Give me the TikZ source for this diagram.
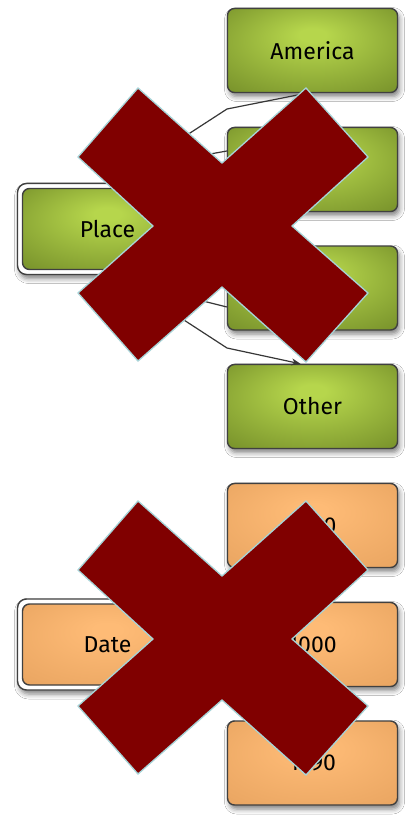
\documentclass[tikz,border=0pt]{standalone}
\usepackage{fontspec}
\setmainfont{Fira Sans}
\usetikzlibrary{shadows.blur,arrows.meta,calc}
\definecolor{gA}{RGB}{182,214,76}
\definecolor{gB}{RGB}{122,148,44}
\definecolor{oA}{RGB}{254,187,118}
\definecolor{oB}{RGB}{234,166,98}
\definecolor{edgegray}{RGB}{64,64,64}
\definecolor{xred}{RGB}{128,0,0}
\definecolor{xline}{RGB}{166,212,216}
\definecolor{wire}{RGB}{55,55,55}
\pgfdeclareradialshading{greenfill}{\pgfpoint{0bp}{10bp}}{color(0bp)=(gA);color(4bp)=(gA);color(36bp)=(gB);color(50bp)=(gB)}
\pgfdeclareradialshading{orangefill}{\pgfpoint{0bp}{10bp}}{color(0bp)=(oA);color(4bp)=(oA);color(36bp)=(oB);color(50bp)=(oB)}
\begin{document}
\begin{tikzpicture}[x=1pt,y=-1pt,
  box/.style={rectangle, rounded corners=7pt, draw=edgegray, line width=1.4pt,
    minimum width=170pt, minimum height=84pt, inner sep=0pt,
    font=\fontsize{23}{27}\selectfont},
  shadowed/.style={blur shadow={shadow xshift=2pt,shadow yshift=-4pt,shadow blur radius=5pt,shadow opacity=50}},
  greenbox/.style={box, shading=greenfill, shadowed},
  orangebox/.style={box, shading=orangefill, shadowed},
  innergreen/.style={box, shading=greenfill, minimum height=81pt},
  innerorange/.style={box, shading=orangefill, minimum height=81pt},
  frame/.style={rectangle, rounded corners=9pt, draw=edgegray, line width=1.4pt,
    fill=white, minimum width=180pt, minimum height=91pt, shadowed},
  wireline/.style={draw=wire, line width=1.2pt, line join=round},
  bigx/.style={fill=xred, draw=xline, line width=1.3pt, line join=miter}]
\useasboundingbox (0,0) rectangle (405,815);
\fill[white] (0,0) rectangle (405,815);

% upper group
\node[greenbox] (america) at (312.5,50.5) {America};
\node[greenbox] (europe) at (312.5,169.5) {};
\node[greenbox] (asia) at (312.5,288) {};
\node[greenbox] (other) at (312.5,406.5) {Other};
\node[frame] (placeframe) at (107.5,229) {};
\node[innergreen] (place) at (107.5,229) {Place};

\draw[wireline] (place.east) -- (170,146) -- (227,109) -- ($(america.south)+(-6,0)$);
\draw[wireline] (place.east) -- (199,156) -- ($(europe.west)+(0,-18.5)$);
\draw[wireline] (place.east) -- (187,297) -- ($(asia.west)+(0,19)$);
\draw[wireline,-{Stealth[length=9pt,width=7pt]}] (place.east) -- (167,309) -- (227,348) -- ($(other.north)+(-12,0)$);

% lower group
\node[orangebox] (y1) at (312.5,525.5) {1900};
\node[orangebox] (y2) at (312.5,644.5) {1000};
\node[orangebox] (y3) at (312.5,763) {1990};
\node[frame] (dateframe) at (107.5,644.5) {};
\node[innerorange] (date) at (107.5,644.5) {Date};

% crosses
\foreach \dy in {0,413}{
  \path[bigx, shift={(0,\dy)}] (138,88) -- (222,163) -- (306,88) -- (368,157) -- (292,226)
    -- (368,293) -- (306,362) -- (222,287) -- (138,361) -- (78,293) -- (153,226) -- (78,157) -- cycle;
}
\end{tikzpicture}
\end{document}
